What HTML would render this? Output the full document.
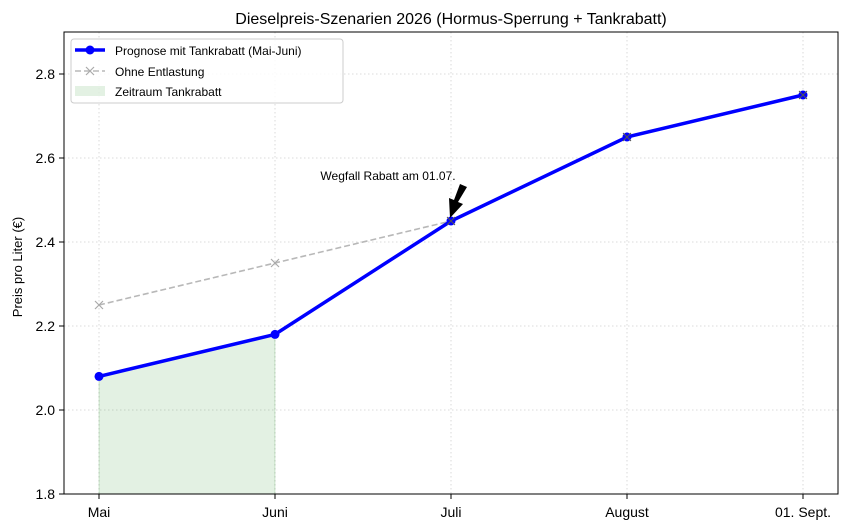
<!DOCTYPE html>
<html><head><meta charset="utf-8"><style>
html,body{margin:0;padding:0;background:#fff;width:848px;height:530px;overflow:hidden}
svg{display:block;font-family:"Liberation Sans",sans-serif}
</style></head><body>
<svg width="848" height="530" viewBox="0 0 848 530" xmlns="http://www.w3.org/2000/svg">
<rect width="848" height="530" fill="#fff"/>
<g stroke="#d0d0d0" stroke-width="0.8" stroke-dasharray="1.5,2.5">
<line x1="64" x2="838" y1="410" y2="410"/><line x1="64" x2="838" y1="326" y2="326"/>
<line x1="64" x2="838" y1="242" y2="242"/><line x1="64" x2="838" y1="158" y2="158"/>
<line x1="64" x2="838" y1="74" y2="74"/>
<line x1="99" x2="99" y1="32" y2="494"/><line x1="275" x2="275" y1="32" y2="494"/>
<line x1="451" x2="451" y1="32" y2="494"/><line x1="627" x2="627" y1="32" y2="494"/>
<line x1="803" x2="803" y1="32" y2="494"/>
</g>
<polygon points="99,376.4 275,334.4 275,494 99,494" fill="#008000" fill-opacity="0.11" stroke="#008000" stroke-opacity="0.15"/>
<polyline points="99,305 275,263 451,221 627,137 803,95" fill="none" stroke="#b8b8b8" stroke-width="1.6" stroke-dasharray="6,3"/>
<g stroke="#aaa" stroke-width="1.2">
<path d="M95,301l8,8M103,301l-8,8M271,259l8,8M279,259l-8,8"/>
</g>
<polyline points="99,376.4 275,334.4 451,221 627,137 803,95" fill="none" stroke="#0000ff" stroke-width="3.5"/>
<g fill="#0000ff"><circle cx="99" cy="376.4" r="4.5"/><circle cx="275" cy="334.4" r="4.5"/><circle cx="451" cy="221" r="4.5"/><circle cx="627" cy="137" r="4.5"/><circle cx="803" cy="95" r="4.5"/></g>
<g stroke="#555" stroke-width="1" fill="none"><path d="M447,217l8,8M455,217l-8,8M623,133l8,8M631,133l-8,8M799,91l8,8M807,91l-8,8"/></g>
<polygon points="467,187 460,184 454,200 449,198 450,218 463,204 458,202" fill="#000"/>
<text x="388" y="180" font-size="12" text-anchor="middle" fill="#000">Wegfall Rabatt am 01.07.</text>
<rect x="64" y="32" width="774" height="462" fill="none" stroke="#000" stroke-width="1"/>
<g stroke="#000"><line x1="99" x2="99" y1="494" y2="499"/><line x1="275" x2="275" y1="494" y2="499"/><line x1="451" x2="451" y1="494" y2="499"/><line x1="627" x2="627" y1="494" y2="499"/><line x1="803" x2="803" y1="494" y2="499"/>
<line x1="59" x2="64" y1="494" y2="494"/><line x1="59" x2="64" y1="410" y2="410"/><line x1="59" x2="64" y1="326" y2="326"/><line x1="59" x2="64" y1="242" y2="242"/><line x1="59" x2="64" y1="158" y2="158"/><line x1="59" x2="64" y1="74" y2="74"/></g>
<g font-size="14" text-anchor="middle" fill="#000">
<text x="99" y="517">Mai</text><text x="275" y="517">Juni</text><text x="451" y="517">Juli</text><text x="627" y="517">August</text><text x="803" y="517">01. Sept.</text></g>
<g font-size="14" text-anchor="end" fill="#000">
<text x="55" y="499">1.8</text><text x="55" y="415">2.0</text><text x="55" y="331">2.2</text><text x="55" y="247">2.4</text><text x="55" y="163">2.6</text><text x="55" y="79">2.8</text></g>
<text transform="translate(22,267) rotate(-90)" font-size="13" text-anchor="middle">Preis pro Liter (€)</text>
<text x="451" y="24" font-size="16" text-anchor="middle">Dieselpreis-Szenarien 2026 (Hormus-Sperrung + Tankrabatt)</text>
<rect x="71" y="39" width="272" height="64" rx="3" fill="#fff" fill-opacity="0.85" stroke="#ccc"/>
<line x1="75" x2="105" y1="50" y2="50" stroke="#0000ff" stroke-width="3.5"/><circle cx="90" cy="50" r="4.5" fill="#0000ff"/>
<line x1="75" x2="105" y1="71" y2="71" stroke="#b8b8b8" stroke-width="1.6" stroke-dasharray="6,3"/><path d="M86,67l8,8M94,67l-8,8" stroke="#aaa" stroke-width="1.2"/>
<rect x="75" y="86" width="30" height="10" fill="#008000" fill-opacity="0.11"/>
<g font-size="12" fill="#000"><text x="115" y="55">Prognose mit Tankrabatt (Mai-Juni)</text><text x="115" y="76">Ohne Entlastung</text><text x="115" y="96">Zeitraum Tankrabatt</text></g>
</svg>
</body></html>
